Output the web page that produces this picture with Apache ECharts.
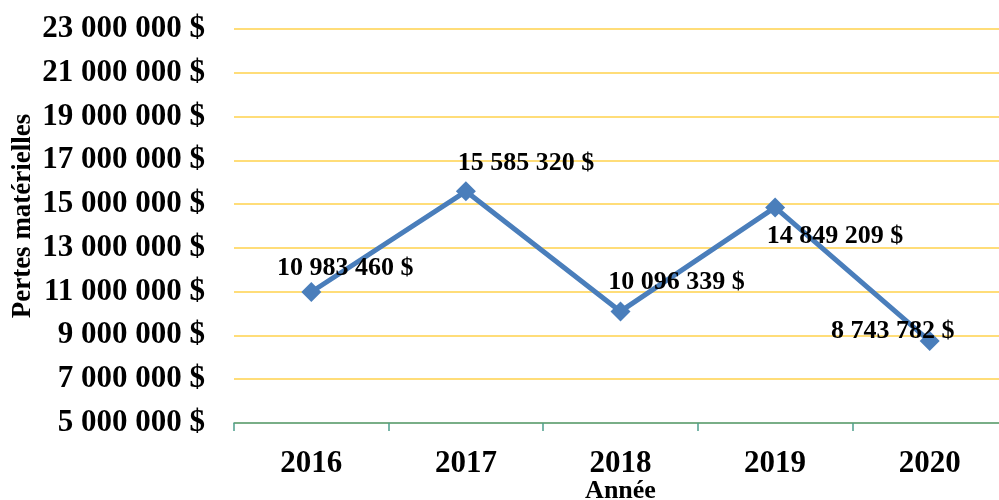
<!DOCTYPE html>
<html>
<head>
<meta charset="utf-8">
<script src="https://cdn.jsdelivr.net/npm/echarts@6/dist/echarts.min.js"></script>
<style>
  html, body { margin: 0; padding: 0; background: #fff; }
  #chart { width: 999px; height: 500px; }
</style>
</head>
<body>
<div id="chart"></div>
<script>
// années et pertes
const annees = ['2016', '2017', '2018', '2019', '2020'];
const pertes = [10983460, 15585320, 10096339, 14849209, 8743782];
// décalage des étiquettes (px) par rapport au point
const decalages = [[34, -24], [60, -28], [56, -29], [60, 29], [-37, -10]];

const police = 'Liberation Serif';

function formatMontant(v) {
  return String(Math.round(v)).replace(/\B(?=(\d{3})+(?!\d))/g, ' ') + ' $';
}

const option = {
  backgroundColor: '#fff',
  animation: false,
  grid: { left: 234, top: 29, width: 773, height: 394, containLabel: false, outerBoundsMode: 'none' },
  xAxis: {
    type: 'category',
    data: annees,
    name: 'Année',
    nameLocation: 'middle',
    nameGap: 55,
    nameMoveOverlap: false,
    nameTextStyle: { fontFamily: police, fontWeight: 'bold', fontSize: 26, color: '#000' },
    axisLine: { lineStyle: { color: '#4E9E8C', width: 1.5 } },
    axisTick: { show: true, length: 8, lineStyle: { color: '#4E9E8C', width: 1.5 } },
    axisLabel: { fontFamily: police, fontWeight: 'bold', fontSize: 31, color: '#000', margin: 25 }
  },
  yAxis: {
    type: 'value',
    min: 5000000,
    max: 23000000,
    interval: 2000000,
    name: 'Pertes matérielles',
    nameLocation: 'middle',
    nameGap: 197,
    nameMoveOverlap: false,
    nameTextStyle: { fontFamily: police, fontWeight: 'bold', fontSize: 27, color: '#000', padding: [0, 0, 0, 20] },
    axisLine: { show: false },
    axisTick: { show: false },
    splitLine: { lineStyle: { color: '#FFD24D', width: 1.5 } },
    axisLabel: {
      fontFamily: police, fontWeight: 'bold', fontSize: 31, color: '#000', margin: 29,
      formatter: formatMontant
    }
  },
  series: [{
    type: 'line',
    data: pertes.map((v, i) => ({
      value: v,
      label: { offset: decalages[i] }
    })),
    symbol: 'diamond',
    symbolSize: 20,
    lineStyle: { color: '#4A7EBB', width: 5 },
    itemStyle: { color: '#4A7EBB' },
    label: {
      show: true,
      position: 'inside',
      fontFamily: police,
      fontWeight: 'bold',
      fontSize: 26,
      color: '#000',
      formatter: p => formatMontant(p.value)
    }
  }]
};

echarts.init(document.getElementById('chart')).setOption(option);
</script>
</body>
</html>
